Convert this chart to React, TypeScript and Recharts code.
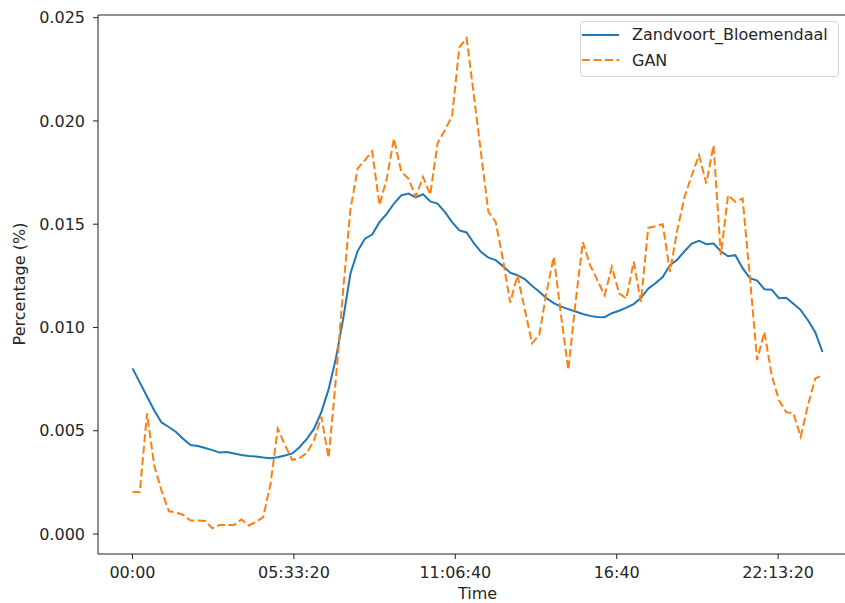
import { LineChart, Line, XAxis, YAxis, Legend, ReferenceLine } from "recharts";

const STEP_SECONDS = 900; // 15-minute samples

const zandvoortBloemendaal = [
  0.00802, 0.00734, 0.00666, 0.00598, 0.0054, 0.00518, 0.00494, 0.0046, 0.00431, 0.00426,
  0.00416, 0.00406, 0.00394, 0.00397, 0.0039, 0.00382, 0.00377, 0.00375, 0.0037, 0.00367,
  0.00372, 0.0038, 0.0039, 0.0042, 0.0046, 0.0051, 0.0059, 0.007, 0.0085, 0.0104,
  0.0126, 0.0137, 0.0143, 0.0145, 0.0151, 0.0155, 0.016, 0.0164, 0.01648, 0.0163,
  0.01645, 0.0161, 0.016, 0.0156, 0.0151, 0.0147, 0.0146, 0.01408, 0.01365, 0.01338,
  0.01326, 0.01297, 0.01265, 0.01253, 0.01234, 0.01202, 0.01173, 0.01142, 0.01118, 0.01101,
  0.01089, 0.01077, 0.01065, 0.01056, 0.01051, 0.0105, 0.01069, 0.01081, 0.01096, 0.01113,
  0.01142, 0.01188, 0.01214, 0.01244, 0.01302, 0.01328, 0.01369, 0.01406, 0.0142, 0.01403,
  0.01406, 0.01369, 0.01345, 0.0135, 0.01287, 0.01239, 0.01227, 0.01185, 0.01183, 0.01142,
  0.01144, 0.01115, 0.01084, 0.01035, 0.00977, 0.00881,
];

const gan = [
  0.00205, 0.00202, 0.00584, 0.0033, 0.0021, 0.0011, 0.00104, 0.00092, 0.00065, 0.00065,
  0.00063, 0.00028, 0.00044, 0.00044, 0.00044, 0.0007, 0.00041, 0.00058, 0.00082, 0.00242,
  0.0051, 0.0043, 0.00358, 0.00368, 0.00392, 0.00455, 0.00568, 0.00368, 0.0075, 0.0118,
  0.0157, 0.0177, 0.0181, 0.01853, 0.01592, 0.0172, 0.01915, 0.01753, 0.01721, 0.01633,
  0.01729, 0.01643, 0.01892, 0.01955, 0.02023, 0.02356, 0.02402, 0.02124, 0.0184, 0.0156,
  0.01511, 0.0133, 0.0112, 0.01253, 0.0109, 0.00923, 0.00963, 0.0117, 0.01342, 0.0106,
  0.00794, 0.01123, 0.01414, 0.01302, 0.01229, 0.01156, 0.01293, 0.01165, 0.0114, 0.01318,
  0.01124, 0.01482, 0.0149, 0.015, 0.01269, 0.0147, 0.01632, 0.01737, 0.01834, 0.01697,
  0.01882, 0.0135, 0.0164, 0.01608, 0.01624, 0.01245, 0.00842, 0.00979, 0.00769, 0.00648,
  0.0059, 0.00584, 0.00471, 0.00624, 0.00753, 0.00769,
];

const xTicks = [0, 20000, 40000, 60000, 80000];
const xTickLabels = ["00:00", "05:33:20", "11:06:40", "16:40", "22:13:20"];
const yTicks = [0, 0.005, 0.01, 0.015, 0.02, 0.025];
const Y_DOMAIN = [-0.00097, 0.02513];

const series = [
  { key: "zandvoort", name: "Zandvoort_Bloemendaal", color: "#1f77b4", dash: undefined },
  { key: "gan", name: "GAN", color: "#ff7f0e", dash: "8 3.5" },
];

const data = zandvoortBloemendaal.map((v, i) => ({
  t: i * STEP_SECONDS,
  zandvoort: v,
  gan: gan[i],
}));

const FONT = "'DejaVu Sans', sans-serif";
const TEXT = "#262626";
const SPINE = "#222";
const tickStyle = { fontSize: 16, fill: TEXT, fontFamily: FONT };

function LegendBox() {
  return (
    <div
      style={{
        border: "1px solid #d6d6d6",
        borderRadius: 4,
        background: "rgba(255,255,255,0.8)",
        padding: "0 10px 3px 1px",
        fontFamily: FONT,
        fontSize: 16,
        color: TEXT,
        whiteSpace: "nowrap",
      }}
    >
      {series.map((s) => (
        <div key={s.key} style={{ display: "flex", alignItems: "center", height: 25.5 }}>
          <svg width={37} height={4} style={{ display: "block" }}>
            <line x1={0} y1={2} x2={37} y2={2} stroke={s.color} strokeWidth={2} strokeDasharray={s.dash} />
          </svg>
          <span style={{ marginLeft: 13 }}>{s.name}</span>
        </div>
      ))}
    </div>
  );
}

export default function App() {
  return (
    <div
      style={{
        position: "absolute",
        left: 0,
        top: 0,
        width: 845,
        height: 603,
        overflow: "hidden",
        background: "#fff",
        fontFamily: FONT,
      }}
    >
      <LineChart width={870} height={603} data={data} margin={{ top: 15, right: 13, bottom: 0, left: 0 }}>
        <XAxis
          dataKey="t"
          type="number"
          domain={[-4275, 89775]}
          ticks={xTicks}
          tickFormatter={(v: number) => xTickLabels[xTicks.indexOf(v)] ?? ""}
          tick={tickStyle}
          tickSize={5}
          tickMargin={8}
          height={49}
          stroke={SPINE}
          allowDataOverflow
          label={{
            content: () => (
              <text x={477.5} y={599} textAnchor="middle" fontSize={16} fill={TEXT} fontFamily={FONT}>
                Time
              </text>
            ),
          }}
        />
        <YAxis
          type="number"
          domain={Y_DOMAIN}
          ticks={yTicks}
          tickFormatter={(v: number) => v.toFixed(3)}
          tick={tickStyle}
          tickSize={5}
          tickMargin={8}
          width={98}
          stroke={SPINE}
          allowDataOverflow
          label={{
            content: () => (
              <text
                x={25}
                y={284}
                transform="rotate(-90 25 284)"
                textAnchor="middle"
                fontSize={16}
                fill={TEXT}
                fontFamily={FONT}
              >
                Percentage (%)
              </text>
            ),
          }}
        />
        {/* top spine */}
        <ReferenceLine y={Y_DOMAIN[1]} stroke={SPINE} strokeWidth={1} ifOverflow="extendDomain" />
        <Legend
          layout="vertical"
          align="center"
          verticalAlign="middle"
          wrapperStyle={{ left: 580, top: 21, right: "auto", bottom: "auto", width: "auto" }}
          content={() => <LegendBox />}
        />
        {series.map((s) => (
          <Line
            key={s.key}
            dataKey={s.key}
            name={s.name}
            type="linear"
            stroke={s.color}
            strokeWidth={2}
            strokeDasharray={s.dash}
            dot={false}
            activeDot={false}
            isAnimationActive={false}
          />
        ))}
      </LineChart>
    </div>
  );
}
